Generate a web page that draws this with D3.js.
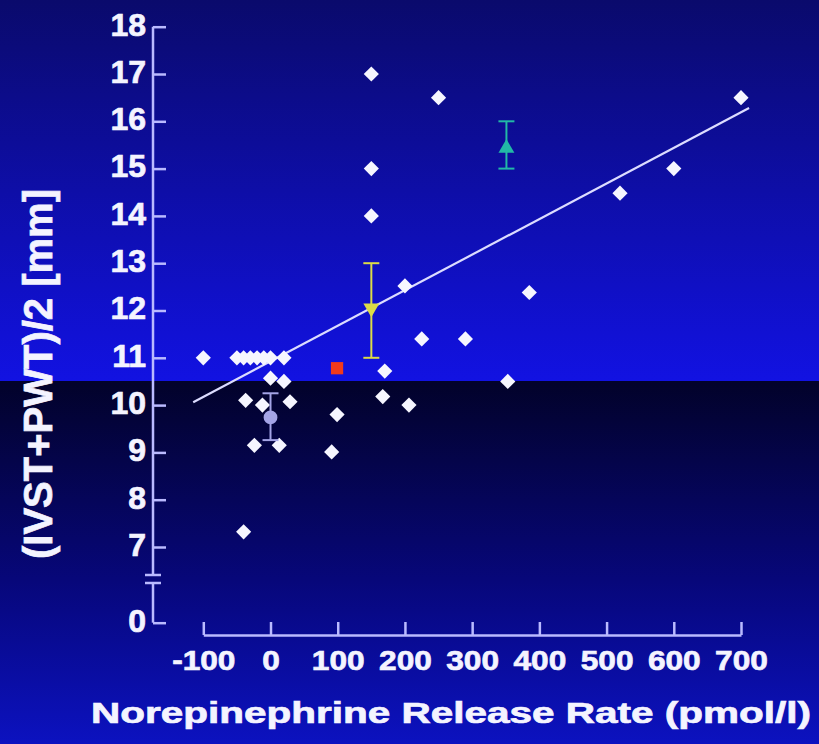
<!DOCTYPE html>
<html>
<head>
<meta charset="utf-8">
<script src="https://cdn.jsdelivr.net/npm/d3@7"></script>
<style>
  html, body { margin: 0; padding: 0; background: #05054a; }
  svg { display: block; }
  text { font-family: "Liberation Sans", Arial, sans-serif; font-weight: bold; fill: #f4f4ff; stroke: #f4f4ff; stroke-width: 0.7px; }
</style>
</head>
<body>
<svg id="chart"></svg>
<script>
// data
const xTicks = [-100, 0, 100, 200, 300, 400, 500, 600, 700];
const yTicks = [0, 7, 8, 9, 10, 11, 12, 13, 14, 15, 16, 17, 18];

// individual patients (x = NE release rate, y = wall thickness)
const pointsX = [-100, -50, -40, -30, -20, -10, 0, 20, 0, 20, -37, -12, 29, -24, 13, -40,
  99, 91, 150, 150, 150, 250, 200, 225, 290, 385, 170, 167, 206, 353, 520, 600, 700];
const pointsY = [11, 11, 11, 11, 11, 11, 11, 11, 10.57, 10.5, 10.1, 10.0, 10.07, 9.15, 9.15, 7.32,
  9.8, 9.01, 17, 15, 14, 16.5, 12.52, 11.4, 11.4, 12.38, 10.72, 10.18, 10.0, 10.5, 14.48, 15, 16.5];

// group means with error bars
const groupX = [0, 99, 150, 351];
const groupY = [9.74, 10.78, 12.05, 15.43];
const groupLo = [9.26, null, 11, 15];
const groupHi = [10.25, null, 13, 16];
const groupShape = ["circle", "square", "triDown", "triUp"];
const groupColor = ["#a4a4e6", "#f23a1c", "#dcdc46", "#22b8a6"];

// regression line end points
const fitX = [-115, 712];
const fitY = [10.06, 16.28];

const W = 819, H = 744;
const svg = d3.select("#chart").attr("width", W).attr("height", H);

// background: slide gradient split at the horizontal band
const defs = svg.append("defs");
const gTop = defs.append("linearGradient").attr("id", "bgTop").attr("x1", 0).attr("y1", 0).attr("x2", 0).attr("y2", 1);
gTop.append("stop").attr("offset", "0%").attr("stop-color", "#0a0a6c");
gTop.append("stop").attr("offset", "100%").attr("stop-color", "#1212e2");
const gBot = defs.append("linearGradient").attr("id", "bgBot").attr("x1", 0).attr("y1", 0).attr("x2", 0).attr("y2", 1);
gBot.append("stop").attr("offset", "0%").attr("stop-color", "#02022a");
gBot.append("stop").attr("offset", "55%").attr("stop-color", "#07077a");
gBot.append("stop").attr("offset", "100%").attr("stop-color", "#0c12c0");

const split = 381;
svg.append("rect").attr("x", 0).attr("y", 0).attr("width", W).attr("height", split).attr("fill", "url(#bgTop)");
svg.append("rect").attr("x", 0).attr("y", split).attr("width", W).attr("height", H - split).attr("fill", "url(#bgBot)");

// scales (y has a broken axis between 0 and 7)
const x = d3.scaleLinear().domain([-100, 700]).range([203.3, 741]);
const y = d3.scaleLinear().domain([0, 7, 18]).range([622.7, 547, 26.7]);

const axisColor = "#babaff";
const axisX0 = 153;
const axisY0 = 635;

// stretch text horizontally like the slide does
function stretch(sel, k) {
  sel.each(function () {
    const len = this.getComputedTextLength();
    d3.select(this).attr("textLength", len * k).attr("lengthAdjust", "spacingAndGlyphs");
  });
}

// y axis
const yAxis = svg.append("g")
  .attr("transform", `translate(${axisX0},0)`)
  .call(d3.axisLeft(y).tickValues(yTicks).tickSizeInner(-13).tickSizeOuter(0).tickPadding(7));
yAxis.select(".domain").remove();
yAxis.selectAll(".tick line").attr("stroke", axisColor).attr("stroke-width", 2.5);
yAxis.selectAll(".tick text")
  .attr("font-size", 32).attr("dy", "0.26em").attr("fill", "#f4f4ff");

const breakTop = y(7) + 28, breakBot = y(7) + 36;
svg.append("line").attr("x1", axisX0).attr("x2", axisX0).attr("y1", y(18)).attr("y2", breakTop)
  .attr("stroke", axisColor).attr("stroke-width", 2.5);
svg.append("line").attr("x1", axisX0).attr("x2", axisX0).attr("y1", breakBot).attr("y2", y(0))
  .attr("stroke", axisColor).attr("stroke-width", 2.5);
[breakTop, breakBot].forEach(b => {
  svg.append("line").attr("x1", axisX0 - 8).attr("x2", axisX0 + 8).attr("y1", b).attr("y2", b)
    .attr("stroke", axisColor).attr("stroke-width", 2.5);
});

// x axis
const xAxis = svg.append("g")
  .attr("transform", `translate(0,${axisY0})`)
  .call(d3.axisBottom(x).tickValues(xTicks).tickFormat(d => String(d))
    .tickSizeInner(-13).tickSizeOuter(0).tickPadding(15));
xAxis.select(".domain").attr("stroke", axisColor).attr("stroke-width", 2.5);
xAxis.selectAll(".tick line").attr("stroke", axisColor).attr("stroke-width", 2.5);
xAxis.selectAll(".tick text")
  .attr("font-size", 28).attr("fill", "#f4f4ff").attr("y", 35).attr("dy", 0)
  .call(stretch, 1.13);

// axis titles
svg.append("text")
  .attr("x", 451).attr("y", 723)
  .attr("text-anchor", "middle")
  .attr("font-size", 30)
  .text("Norepinephrine Release Rate (pmol/l)")
  .call(stretch, 1.35);

svg.append("text")
  .attr("transform", "translate(52,374) rotate(-90)")
  .attr("text-anchor", "middle")
  .attr("font-size", 40)
  .text("(IVST+PWT)/2 [mm]");

// regression line
svg.append("path")
  .datum(fitX.map((v, i) => [v, fitY[i]]))
  .attr("d", d3.line().x(d => x(d[0])).y(d => y(d[1])))
  .attr("stroke", "#dcdcff").attr("stroke-width", 2.2).attr("fill", "none");

// patient points (white diamonds)
const diamond = d3.symbol(d3.symbolSquare, 115);
svg.append("g").selectAll("path")
  .data(pointsX.map((v, i) => ({ x: v, y: pointsY[i] })))
  .enter().append("path")
  .attr("d", diamond)
  .attr("transform", d => `translate(${x(d.x)},${y(d.y)}) rotate(45)`)
  .attr("fill", "#f6f6ff");

// group means
const groups = groupX.map((v, i) => ({
  x: v, y: groupY[i], lo: groupLo[i], hi: groupHi[i], shape: groupShape[i], color: groupColor[i]
}));
const gMean = svg.append("g");
groups.filter(d => d.lo != null).forEach(d => {
  const cx = x(d.x), cap = 8;
  gMean.append("line").attr("x1", cx).attr("x2", cx).attr("y1", y(d.lo)).attr("y2", y(d.hi))
    .attr("stroke", d.color).attr("stroke-width", 2);
  [d.lo, d.hi].forEach(v => {
    gMean.append("line").attr("x1", cx - cap).attr("x2", cx + cap).attr("y1", y(v)).attr("y2", y(v))
      .attr("stroke", d.color).attr("stroke-width", 2);
  });
});
const shapes = {
  circle: { type: d3.symbolCircle, size: 150, rot: 0 },
  square: { type: d3.symbolSquare, size: 150, rot: 0 },
  triDown: { type: d3.symbolTriangle, size: 110, rot: 180 },
  triUp: { type: d3.symbolTriangle, size: 110, rot: 0 }
};
gMean.selectAll("path")
  .data(groups)
  .enter().append("path")
  .attr("d", d => d3.symbol(shapes[d.shape].type, shapes[d.shape].size)())
  .attr("transform", d => `translate(${x(d.x)},${y(d.y)}) rotate(${shapes[d.shape].rot})`)
  .attr("fill", d => d.color);
</script>
</body>
</html>
